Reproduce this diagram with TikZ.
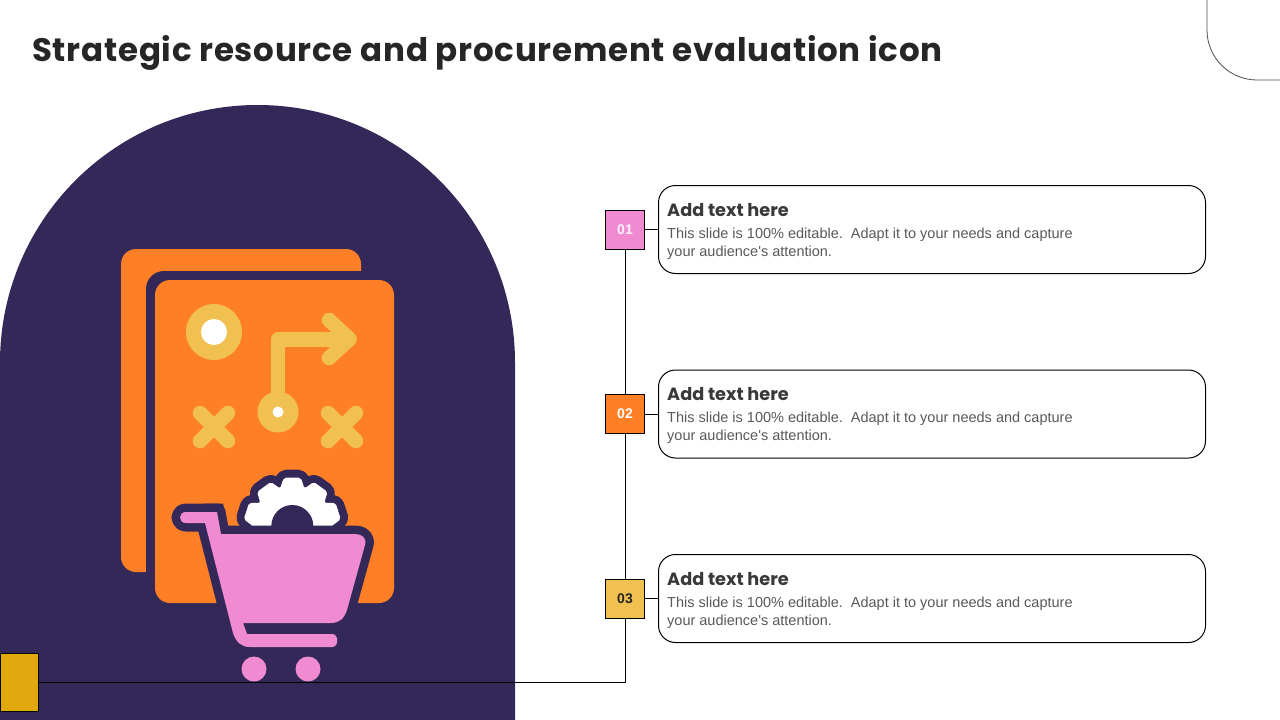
\documentclass[tikz,border=0pt]{standalone}
\usepackage[HTML]{xcolor}
\usepackage{fontspec}
\usepackage{tikz}
\usetikzlibrary{positioning, calc}
\setmainfont{Liberation Sans}
\newfontfamily\bodyfont{Liberation Sans}
\newfontfamily\headfont[LetterSpace=2.3]{Poppins}
\newfontfamily\cardfont{Poppins}
\definecolor{archpurple}{HTML}{332858}
\definecolor{pageorange}{HTML}{FF7F27}
\definecolor{markgold}{HTML}{F0C050}
\definecolor{cartpink}{HTML}{F08BD2}
\definecolor{taggold}{HTML}{E2A90F}
\definecolor{bodygray}{HTML}{595959}
\definecolor{headgray}{HTML}{3B3838}

\begin{document}
\begin{tikzpicture}[x=1pt, y=-1pt,
  numbox/.style={draw=black, line width=1pt, minimum width=39pt, minimum height=39pt, inner sep=0pt, font=\bfseries\fontsize{14}{16}\selectfont},
  card/.style={draw=black, line width=1pt, rounded corners=17pt, minimum width=547pt, minimum height=88pt, inner sep=0pt},
  cardhead/.style={anchor=base west, inner sep=0pt, text=headgray, font=\cardfont\bfseries\fontsize{17.7}{20}\selectfont},
  cardbody/.style={anchor=base west, inner sep=0pt, text=bodygray, font=\bodyfont\fontsize{14.5}{18}\selectfont},
  markline/.style={draw=markgold, line width=14.5pt, line cap=round, line join=round},
  connector/.style={draw=black, line width=0.9pt}]
\useasboundingbox (0,0) rectangle (1280,720);
\fill[white] (0,0) rectangle (1280,720);

% Background arch and corner arc
\fill[archpurple] (0,720) -- (0,362.5) arc[start angle=180, end angle=360, radius=257.5] -- (515,720) -- cycle;
\draw[line width=0.8pt, draw=black!70] (1207,-2) -- (1207,30) arc[start angle=180, end angle=90, radius=50] -- (1282,80);

\node[anchor=base west, inner sep=0pt, text=black!85, font=\headfont\bfseries\fontsize{32.5}{40}\selectfont] (title) at (32,61) {Strategic resource and procurement evaluation icon};

% Pages
\fill[pageorange, rounded corners=15pt] (121,249) rectangle (361,572);
\fill[archpurple, rounded corners=18pt] (146,271) rectangle (394,603);
\fill[pageorange, rounded corners=15pt] (155,280) rectangle (394,603);

% Marks on the page
\fill[markgold] (214,332) circle (28);
\fill[white] (214,332) circle (13);
\draw[markline] (278,412) -- (278,339.5) -- (349,339.5);
\draw[markline] (329,320) -- (349.5,339) -- (329,358);
\fill[markgold] (278,412) circle (20.5);
\fill[white] (278,412) circle (5.5);
\draw[markline] (200,413) -- (228,441);
\draw[markline] (228,413) -- (200,441);
\draw[markline] (328,413) -- (356,441);
\draw[markline] (356,413) -- (328,441);

% Gear behind the cart
\begin{scope}[shift={(292.3,526)}]
\draw[draw=archpurple, line width=16pt, line join=round, rounded corners=2pt, postaction={fill=white}]
  (0:39.5) \foreach \a in {18,54,...,342} { -- (\a-10:49) -- (\a+10:49) -- (\a+18:39.5) } -- cycle;
\fill[archpurple] (0,0) circle (21);
\end{scope}

% Cart
\fill[archpurple] (205,503.5) -- (223,503.5) -- (228,527) -- (215,527) -- cycle;
\draw[draw=archpurple, line width=17pt, line join=round, postaction={fill=cartpink}]
  (217,512) -- (221,534) -- (355,534) .. controls (362,534) and (367,538) .. (365,545)
  -- (347,610) .. controls (344,619) and (339,623) .. (331,623) -- (243,623) -- (247,634)
  -- (332,634) .. controls (339,634) and (339,647) .. (332,647) -- (250,647)
  .. controls (241,647) and (236,642) .. (233,633) -- (205,523) -- (186,523)
  .. controls (178,523) and (178,512) .. (186,512) -- cycle;
\fill[cartpink] (254,669) circle (12.5);
\fill[cartpink] (308,669) circle (12.5);

% Numbered cards
\node[card] (card1) at (932,229.5) {};
\node[card] (card2) at (932,414) {};
\node[card] (card3) at (932,598.5) {};
\node[numbox, fill=cartpink, text=white!90!cartpink] (num1) at (625,229.5) {01};
\node[numbox, fill=pageorange, text=white] (num2) at (625,414) {02};
\node[numbox, fill=markgold, text=black!85] (num3) at (625,598.5) {03};
\node[draw=black, line width=1pt, fill=taggold, minimum width=37.5pt, minimum height=58pt, inner sep=0pt] (tag) at (19.5,682.5) {};
\coordinate (elbow) at (num3 |- tag);

\draw[connector] (num1) -- (card1);
\draw[connector] (num2) -- (card2);
\draw[connector] (num3) -- (card3);
\draw[connector] (num1) -- (num2);
\draw[connector] (num2) -- (num3);
\draw[connector] (num3) -- (elbow);
\draw[connector] (tag) -- (elbow);

\foreach \i/\ya/\yb/\yc in {1/216/238/256, 2/400/422/440, 3/585/607/625} {
  \node[cardhead] (head\i) at (667,\ya) {Add text here};
  \node[cardbody] (bodya\i) at (667,\yb) {This slide is 100\% editable.\ \ Adapt it to your needs and capture};
  \node[cardbody] (bodyb\i) at (667,\yc) {your audience's attention.};
}
\end{tikzpicture}
\end{document}
